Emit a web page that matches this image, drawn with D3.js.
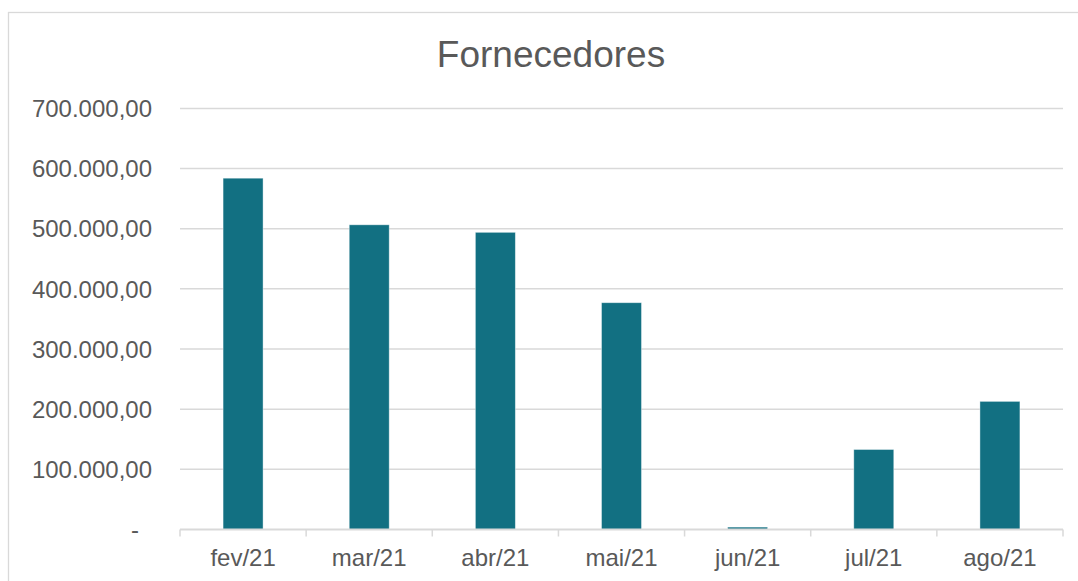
<!DOCTYPE html>
<html lang="pt">
<head>
<meta charset="UTF-8">
<title>Fornecedores</title>
<script src="https://d3js.org/d3.v7.min.js"></script>
<style>
    body { margin: 0; padding: 0; background: #fff; }
    svg { display: block; font-family: "Liberation Sans", Arial, sans-serif; }
    .ylabel, .xlabel { fill: #595959; font-size: 24px; }
    .title { fill: #595959; font-size: 37px; }
</style>
</head>
<body>
<svg id="canvas" width="1078" height="581"></svg>
<script>
// data
const months = ["fev/21", "mar/21", "abr/21", "mai/21", "jun/21", "jul/21", "ago/21"]
const values = [584000, 506500, 494000, 377000, 4000, 133000, 213000]
const yTicks = [0, 100000, 200000, 300000, 400000, 500000, 600000, 700000]

const svg = d3.select("#canvas")

// chart frame (runs off the right/bottom edge like the original)
svg.append("rect")
    .attr("x", 8.5).attr("y", 12.5)
    .attr("width", 1085).attr("height", 600)
    .attr("fill", "none")
    .attr("stroke", "#d9d9d9")
    .attr("stroke-width", 1.3)

svg.append("text")
    .attr("class", "title")
    .attr("x", 551).attr("y", 66.5)
    .attr("text-anchor", "middle")
    .text("Fornecedores")

const x = d3.scaleBand()
    .domain(months)
    .range([180, 1063])
    .padding(0)

const y = d3.scaleLinear()
    .domain([0, 700000])
    .range([529.5, 108.4])

const ptBR = d3.formatLocale({decimal: ",", thousands: ".", grouping: [3], currency: ["R$", ""]})
const fmt = ptBR.format(",.2f")

// gridlines
svg.append("g")
    .selectAll("line")
    .data(yTicks.filter(d => d > 0))
    .join("line")
    .attr("x1", 180).attr("x2", 1063)
    .attr("y1", d => y(d)).attr("y2", d => y(d))
    .attr("stroke", "#d9d9d9")
    .attr("stroke-width", 1.5)

// y labels
svg.append("g")
    .selectAll("text")
    .data(yTicks)
    .join("text")
    .attr("class", "ylabel")
    .attr("x", d => d === 0 ? 139 : 152)
    .attr("y", d => y(d))
    .attr("dy", "0.36em")
    .attr("text-anchor", "end")
    .text(d => d === 0 ? "-" : fmt(d))

// bars
const barW = x.bandwidth() * 0.317
svg.append("g")
    .selectAll("rect")
    .data(values)
    .join("rect")
    .attr("x", (d, i) => x(months[i]) + (x.bandwidth() - barW) / 2)
    .attr("y", d => y(d))
    .attr("width", barW)
    .attr("height", d => y(0) - y(d))
    .attr("fill", "#127082")
    .attr("stroke", "#ffffff")
    .attr("stroke-opacity", 0.5)
    .attr("stroke-width", 0.8)

// x axis line and ticks between categories
const axis = svg.append("g")
axis.append("line")
    .attr("x1", 180).attr("x2", 1063)
    .attr("y1", y(0)).attr("y2", y(0))
    .attr("stroke", "#d9d9d9")
    .attr("stroke-width", 1.8)

const tickPos = months.map(m => x(m)).concat([x.range()[1]])
axis.selectAll(".tick")
    .data(tickPos)
    .join("line")
    .attr("class", "tick")
    .attr("x1", d => d).attr("x2", d => d)
    .attr("y1", y(0)).attr("y2", y(0) + 7)
    .attr("stroke", "#d9d9d9")
    .attr("stroke-width", 1.5)

axis.selectAll(".xlabel")
    .data(months)
    .join("text")
    .attr("class", "xlabel")
    .attr("x", d => x(d) + x.bandwidth() / 2)
    .attr("y", 566)
    .attr("text-anchor", "middle")
    .text(d => d)
</script>
</body>
</html>
